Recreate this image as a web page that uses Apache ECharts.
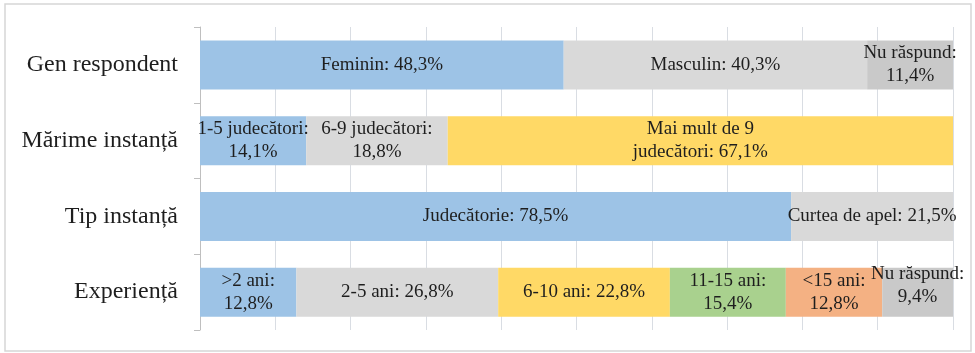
<!DOCTYPE html>
<html>
<head>
<meta charset="utf-8">
<script src="https://cdn.jsdelivr.net/npm/echarts@6/dist/echarts.min.js"></script>
<style>
  html, body { margin: 0; padding: 0; background: #ffffff; }
  #chart { width: 975px; height: 353px; }
</style>
</head>
<body>
<div id="chart"></div>
<script>
// Row categories (top to bottom)
const categories = ['Gen respondent', 'Mărime instanță', 'Tip instanță', 'Experiență'];

// Segment names and shares (%) for each row
const genNames = ['Feminin', 'Masculin', 'Nu răspund'];
const genValues = [48.3, 40.3, 11.4];

const marimeNames = ['1-5 judecători', '6-9 judecători', 'Mai mult de 9\njudecători'];
const marimeValues = [14.1, 18.8, 67.1];

const tipNames = ['Judecătorie', 'Curtea de apel'];
const tipValues = [78.5, 21.5];

const expNames = ['>2 ani', '2-5 ani', '6-10 ani', '11-15 ani', '<15 ani', 'Nu răspund'];
const expValues = [12.8, 26.8, 22.8, 15.4, 12.8, 9.4];

// Palette
const BLUE = '#9dc3e6', GRAY = '#d9d9d9', DGRAY = '#c9c9c9',
      YELLOW = '#ffd966', GREEN = '#a9d18e', ORANGE = '#f4b183';

// Per-row styling: segment colours and whether the value goes on a new line
const rows = [
  { names: genNames, values: genValues, colors: [BLUE, GRAY, DGRAY], wrap: [false, false, true] },
  { names: marimeNames, values: marimeValues, colors: [BLUE, GRAY, YELLOW], wrap: [true, true, false] },
  { names: tipNames, values: tipValues, colors: [BLUE, GRAY], wrap: [false, false] },
  { names: expNames, values: expValues, colors: [BLUE, GRAY, YELLOW, GREEN, ORANGE, DGRAY], wrap: [true, false, false, true, true, true] }
];

const fmt = v => v.toFixed(1).replace('.', ',') + '%';
const FONT = '"Liberation Serif", "DejaVu Serif", serif';
const TEXT = '#1e1e1e';

const maxSegs = Math.max(...rows.map(r => r.values.length));
const series = [];
for (let k = 0; k < maxSegs; k++) {
  series.push({
    type: 'bar',
    stack: 'total',
    barWidth: 49,
    label: {
      show: true,
      position: 'inside',
      fontFamily: FONT,
      fontSize: 19,
      lineHeight: 23,
      color: TEXT,
      formatter: p => p.data.text
    },
    data: rows.map((r, ri) => {
      if (k >= r.values.length) return '-';
      const item = {
        value: r.values[k],
        text: r.names[k] + ':' + (r.wrap[k] ? '\n' : ' ') + fmt(r.values[k]),
        itemStyle: { color: r.colors[k] }
      };
      if (ri === 3 && k === 5) item.label = { offset: [0, -7] };
      return item;
    })
  });
}

const chart = echarts.init(document.getElementById('chart'), null, { renderer: 'canvas' });
chart.setOption({
  animation: false,
  backgroundColor: '#ffffff',
  graphic: [{
    type: 'rect',
    shape: { x: 5, y: 4, width: 966, height: 347 },
    style: { fill: 'none', stroke: '#d6d6d6', lineWidth: 1.5 },
    silent: true
  }],
  grid: { left: 200, right: 22, top: 27, bottom: 23 },
  xAxis: {
    type: 'value',
    min: 0,
    max: 100,
    interval: 10,
    axisLabel: { show: false },
    axisLine: { show: false },
    axisTick: { show: false },
    splitLine: { show: true, lineStyle: { color: '#d9dde3', width: 1 } }
  },
  yAxis: {
    type: 'category',
    data: categories,
    inverse: true,
    axisLine: { show: true, lineStyle: { color: '#bfbfbf' } },
    axisTick: { show: true, length: 6, lineStyle: { color: '#bfbfbf' } },
    axisLabel: { margin: 22, fontFamily: FONT, fontSize: 24, color: TEXT }
  },
  series: series
});
</script>
</body>
</html>
